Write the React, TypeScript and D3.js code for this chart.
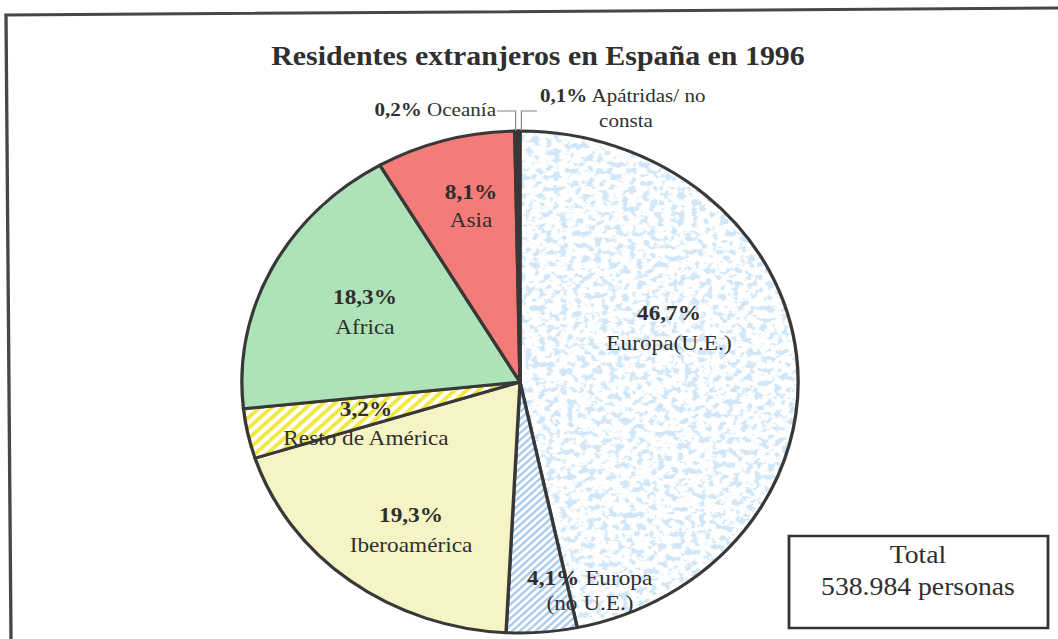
import React, { useEffect, useRef } from "react";
import * as d3 from "d3";

// data
const categories = [
  "Europa(U.E.)",
  "Europa\n(no U.E.)",
  "Iberoamérica",
  "Resto de América",
  "Africa",
  "Asia",
  "Oceanía",
  "Apátridas/ no\nconsta",
];
const shares = [46.7, 4.1, 19.3, 3.2, 18.3, 8.1, 0.2, 0.1];
const totalLines = ["Total", "538.984 personas"];
const title = "Residentes extranjeros en España en 1996";

const W = 1058;
const H = 639;
const S = 1.108; // the original scan is stretched horizontally
const vx = (x: number) => x / S;

const fills = [
  "url(#speckBlue)",
  "url(#hatchBlue)",
  "#f6f4c4",
  "url(#hatchYellow)",
  "#aee2b8",
  "#f47c78",
  "#3a3a3a",
  "#3a3a3a",
];

// label anchors in screen pixels (pct line, name line)
const labelLayout = [
  { mode: "stack", x: 669, y: 320, y2: 350 },
  { mode: "inline", anchor: "start", x: 527, y: 585, x2: 590, y2: 610, size: 21 },
  { mode: "stack", x: 411, y: 522, y2: 552 },
  { mode: "stack", x: 366, y: 416, y2: 445 },
  { mode: "stack", x: 365, y: 304, y2: 334 },
  { mode: "stack", x: 471, y: 199, y2: 227 },
  { mode: "inline", anchor: "end", x: 496, y: 116, size: 19 },
  { mode: "inline", anchor: "start", x: 540, y: 102, x2: 626, y2: 127, size: 19 },
];

const locale = d3.formatLocale({ decimal: ",", thousands: ".", grouping: [3], currency: ["", ""] });
const pct = (v: number) => locale.format(".1f")(v) + "%";

const FONT = "'Liberation Serif', 'Times New Roman', serif";
const INK = "#2f2f2f";

function PieChart() {
  const ref = useRef<SVGSVGElement | null>(null);

  useEffect(() => {
    const svg = d3.select(ref.current);
    svg.selectAll("*").remove();

    const cx = vx(520);
    const cy = 382;
    const R = 251;

    const defs = svg.append("defs");

    const noise = defs.append("filter").attr("id", "noise")
      .attr("x", 0).attr("y", 0).attr("width", 1).attr("height", 1);
    noise.append("feTurbulence")
      .attr("type", "fractalNoise").attr("baseFrequency", 0.16)
      .attr("numOctaves", 4).attr("seed", 11).attr("result", "n");
    noise.append("feColorMatrix").attr("in", "n").attr("type", "matrix")
      .attr("values", "0 0 0 0 0.64  0 0 0 0 0.80  0 0 0 0 0.94  10 0 0 0 -5.15");

    const speck = defs.append("pattern").attr("id", "speckBlue")
      .attr("patternUnits", "userSpaceOnUse")
      .attr("x", -R).attr("y", -R).attr("width", 2 * R).attr("height", 2 * R);
    speck.append("rect").attr("width", 2 * R).attr("height", 2 * R).attr("fill", "#ffffff");
    speck.append("rect").attr("width", 2 * R).attr("height", 2 * R).attr("filter", "url(#noise)");

    const hatch = (id: string, color: string, size: number, w: number) => {
      const p = defs.append("pattern").attr("id", id)
        .attr("patternUnits", "userSpaceOnUse")
        .attr("width", size).attr("height", size)
        .attr("patternTransform", "rotate(45)");
      p.append("rect").attr("width", size).attr("height", size).attr("fill", "#ffffff");
      p.append("rect").attr("width", w).attr("height", size).attr("fill", color);
    };
    hatch("hatchBlue", "#a9c9ea", 5, 2.2);
    hatch("hatchYellow", "#f1e83c", 7.5, 3.6);

    // frame of the scanned page
    svg.append("path")
      .attr("d", `M${vx(11)},${H} L${vx(6)},15 L${vx(W)},8`)
      .attr("fill", "none").attr("stroke", "#474747").attr("stroke-width", 3);

    svg.append("text")
      .attr("x", vx(538)).attr("y", 65)
      .attr("text-anchor", "middle")
      .attr("font-family", FONT).attr("font-size", 27).attr("font-weight", "bold")
      .attr("fill", INK)
      .text(title);

    const pie = d3.pie<number>().sort(null).value(d => d);
    const arcs = pie(shares);
    const arc = d3.arc<d3.PieArcDatum<number>>().innerRadius(0).outerRadius(R);

    const g = svg.append("g").attr("transform", `translate(${cx},${cy})`);
    g.selectAll("path.slice")
      .data(arcs)
      .join("path")
      .attr("class", "slice")
      .attr("d", arc)
      .attr("fill", (d, i) => fills[i])
      .attr("stroke", "#383838")
      .attr("stroke-width", 3)
      .attr("stroke-linejoin", "round");

    // leader lines for the two tiny slices
    const knee = 111 - cy;
    const mid = (d: d3.PieArcDatum<number>) => (d.startAngle + d.endAngle) / 2;
    const oce = d3.pointRadial(mid(arcs[6]), R);
    const apa = d3.pointRadial(mid(arcs[7]), R);
    g.append("path")
      .attr("d", `M${vx(497) - cx},${knee} H${oce[0] - 0.8} V${oce[1]}`)
      .attr("fill", "none").attr("stroke", "#808080").attr("stroke-width", 1);
    g.append("path")
      .attr("d", `M${apa[0] + 2},${apa[1]} V${knee} H${vx(537) - cx}`)
      .attr("fill", "none").attr("stroke", "#808080").attr("stroke-width", 1);

    // labels
    const labels = svg.append("g").attr("font-family", FONT).attr("fill", INK);
    arcs.forEach((d, i) => {
      const L: any = labelLayout[i];
      const lines = categories[i].split("\n");
      if (L.mode === "stack") {
        labels.append("text")
          .attr("x", vx(L.x)).attr("y", L.y).attr("text-anchor", "middle")
          .attr("font-size", 21).attr("font-weight", "bold")
          .text(pct(d.data));
        labels.append("text")
          .attr("x", vx(L.x)).attr("y", L.y2).attr("text-anchor", "middle")
          .attr("font-size", 21)
          .text(lines[0]);
      } else {
        const t = labels.append("text")
          .attr("x", vx(L.x)).attr("y", L.y).attr("text-anchor", L.anchor)
          .attr("font-size", L.size);
        t.append("tspan").attr("font-weight", "bold").text(pct(d.data));
        t.append("tspan").text(" " + lines[0]);
        if (lines[1]) {
          labels.append("text")
            .attr("x", vx(L.x2)).attr("y", L.y2).attr("text-anchor", "middle")
            .attr("font-size", L.size)
            .text(lines[1]);
        }
      }
    });

    // total box
    svg.append("rect")
      .attr("x", vx(789)).attr("y", 536)
      .attr("width", vx(1048) - vx(789)).attr("height", 92)
      .attr("fill", "#ffffff").attr("stroke", "#333333").attr("stroke-width", 2.5);
    svg.append("g").attr("font-family", FONT).attr("fill", INK)
      .selectAll("text")
      .data(totalLines)
      .join("text")
      .attr("x", vx(918)).attr("y", (d, i) => 563 + i * 32)
      .attr("text-anchor", "middle").attr("font-size", 25)
      .text(d => d);
  }, []);

  return (
    <svg
      ref={ref}
      width={W}
      height={H}
      viewBox={`0 0 ${W / S} ${H}`}
      preserveAspectRatio="none"
      style={{ position: "absolute", left: 0, top: 0, background: "#ffffff" }}
    />
  );
}

export default function App() {
  return <PieChart />;
}
